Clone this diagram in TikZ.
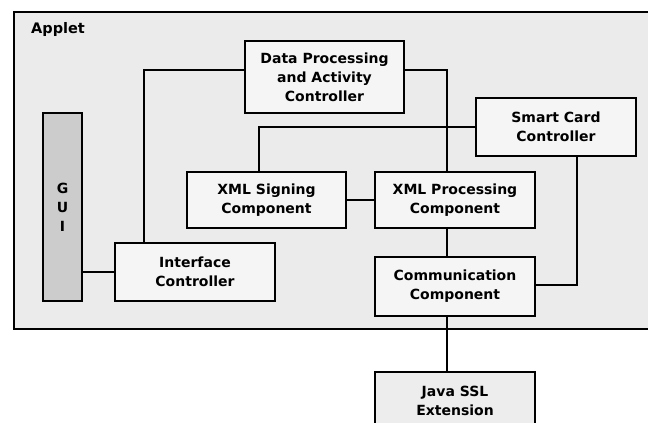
\documentclass[tikz,border=0pt]{standalone}
\usepackage{fontspec}
\setmainfont{DejaVu Sans}
\begin{document}
\begin{tikzpicture}[x=1pt,y=-1pt,
  comp/.style={draw=black, line width=1.8pt, fill=white!96!black, align=center,
    font=\bfseries\fontsize{14}{19}\selectfont, inner sep=0pt},
  link/.style={draw=black, line width=1.6pt}]
\useasboundingbox (0,0) rectangle (648,423);
% applet container
\draw[line width=2.5pt, fill=black!8] (14,12) rectangle (652,329);
\node[anchor=base west, font=\bfseries\fontsize{14.5}{17}\selectfont, inner sep=0pt] (applet) at (31,34) {Applet};
% components
\node[comp, minimum width=159, minimum height=72] (dp) at (324.5,77) {Data Processing\\and Activity\\Controller};
\node[comp, minimum width=160, minimum height=58] (ic) at (195,272) {Interface\\Controller};
\node[comp, minimum width=160, minimum height=58] (scc) at (556,127) {Smart Card\\Controller};
\node[comp, minimum width=159, minimum height=56] (xs) at (266.5,200) {XML Signing\\Component};
\node[comp, minimum width=160, minimum height=56] (xp) at (455,200) {XML Processing\\Component};
\node[comp, minimum width=160, minimum height=59] (cc) at (455,286.5) {Communication\\Component};
\node[comp, fill=black!7, minimum width=160, minimum height=58] (java) at (455,401) {Java SSL\\Extension};
\node[comp, fill=black!20, minimum width=39, minimum height=188] (gui) at (62.5,207) {G\\U\\I};
% connectors
\draw[link] ([yshift=7pt]dp.west) -| ([xshift=-51pt]ic.north);
\draw[link] ([yshift=7pt]dp.east) -| ([xshift=-8pt]xp.north);
\draw[link] (scc.west) -| ([xshift=-7.5pt]xs.north);
\draw[link] (xs.east) -- (xp.west);
\draw[link] ([xshift=-8pt]xp.south) -- ([xshift=-8pt]cc.north);
\draw[link] ([xshift=21pt]scc.south) |- ([yshift=1.5pt]cc.east);
\draw[link] ([xshift=-8pt]cc.south) -- ([xshift=-8pt]java.north);
\draw[link] (gui.east |- ic.west) -- (ic.west);
\end{tikzpicture}
\end{document}
